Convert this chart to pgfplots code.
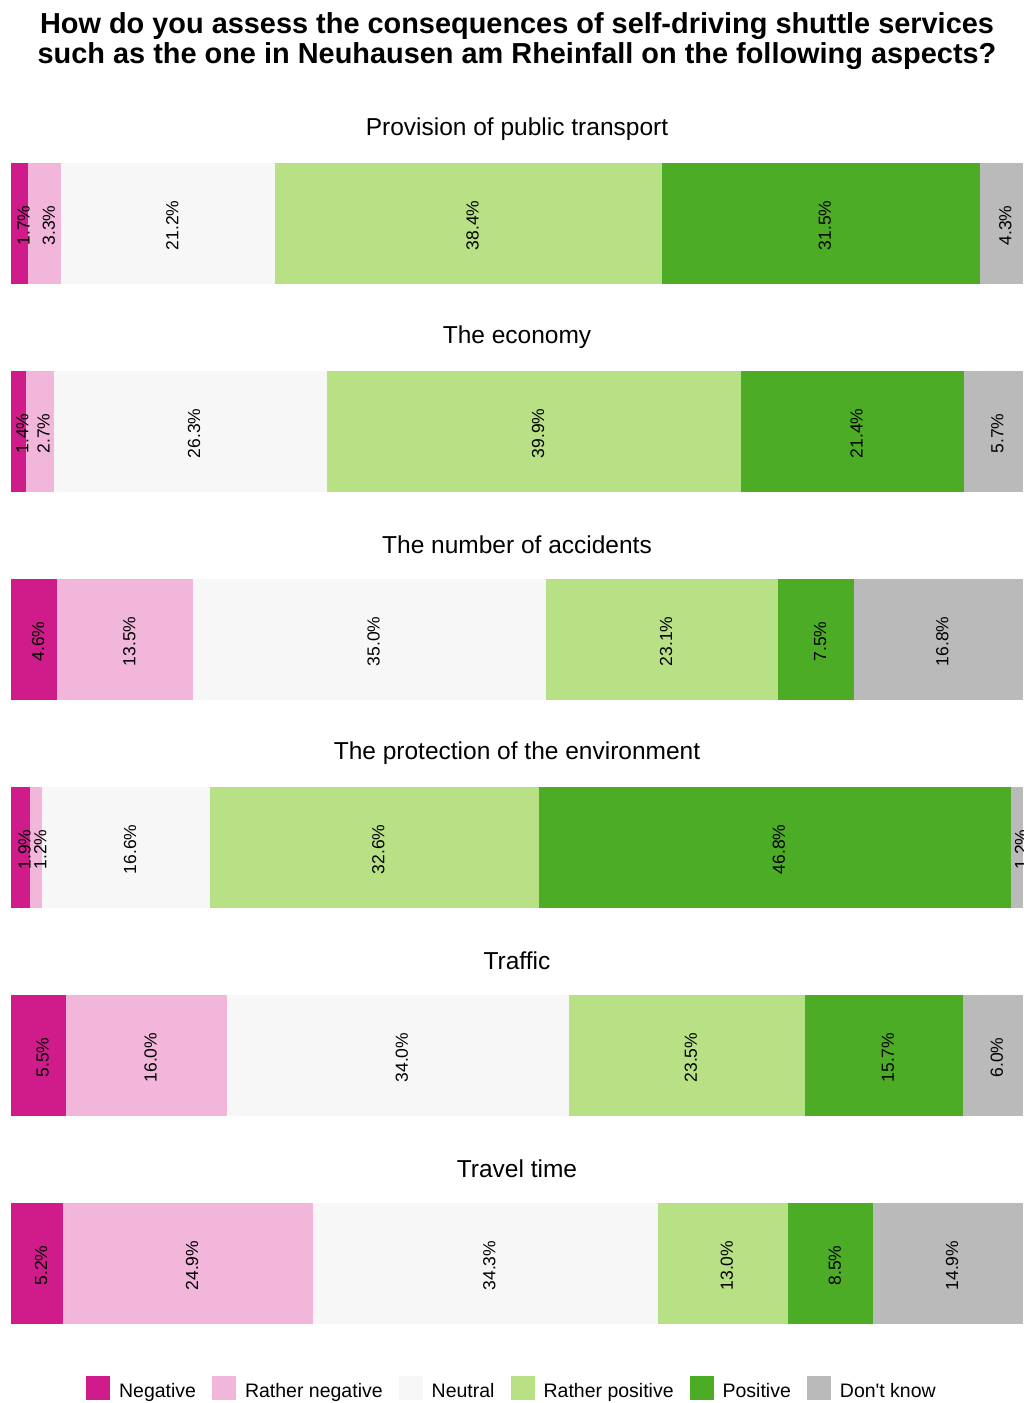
\documentclass[border=0pt]{standalone}
\usepackage{pgfplots}
\pgfplotsset{compat=1.18}
\usepackage{fontspec}
\setmainfont{Liberation Sans}
\definecolor{cNeg}{HTML}{D01C8B}
\definecolor{cRneg}{HTML}{F1B6DA}
\definecolor{cNeu}{HTML}{F7F7F7}
\definecolor{cRpos}{HTML}{B8E186}
\definecolor{cPos}{HTML}{4DAC26}
\definecolor{cDk}{HTML}{BABABA}
\pgfplotsset{
 panel/.style={
   xbar stacked, width=1012pt, height=121pt, scale only axis, hide axis,
   xmin=0, ymin=-0.5, ymax=0.5, bar width=121pt, enlargelimits=false,
   anchor=north west, clip=false,
   nodes near coords={\pgfmathprintnumber[fixed,fixed zerofill,precision=1,assume math mode=true]{\pgfplotspointmeta}\%},
   point meta=rawx,
   every node near coord/.append style={xshift=4pt, yshift=-2pt, anchor=center, rotate=90, font=\fontsize{17.5}{20}\selectfont, inner sep=0pt, text=black},
   legend image code/.code={\fill[##1] (0pt,-9pt) rectangle (24pt,15pt);},
 },
}
\newcommand{\panel}[9]{%
 \node[font=\fontsize{24.5}{28}\selectfont] at (517pt,{-#1pt+34pt}) {#2};
 \pgfmathsetmacro\tot{#3+#4+#5+#6+#7+#8}
 \begin{axis}[panel, at={(11pt,-#1pt)}, xmax=\tot, #9]
  \addplot[fill=cNeg, draw=none] coordinates {(#3,0)};
  \addplot[fill=cRneg, draw=none] coordinates {(#4,0)};
  \addplot[fill=cNeu, draw=none] coordinates {(#5,0)};
  \addplot[fill=cRpos, draw=none] coordinates {(#6,0)};
  \addplot[fill=cPos, draw=none] coordinates {(#7,0)};
  \addplot[fill=cDk, draw=none] coordinates {(#8,0)};
 \end{axis}}
\begin{document}
\begin{tikzpicture}
\path[use as bounding box] (0,0) rectangle (1024pt,-1403pt);
\node[font=\fontsize{28.9}{30}\selectfont\bfseries, align=center] at (517pt,-41pt)
 {How do you assess the consequences of self-driving shuttle services\\such as the one in Neuhausen am Rheinfall on the following aspects?};
\panel{163}{Provision of public transport}{1.7}{3.3}{21.2}{38.4}{31.5}{4.3}{}
\panel{371}{The economy}{1.4}{2.7}{26.3}{39.9}{21.4}{5.7}{}
\panel{579}{The number of accidents}{4.6}{13.5}{35.0}{23.1}{7.5}{16.8}{}
\panel{787}{The protection of the environment}{1.9}{1.2}{16.6}{32.6}{46.8}{1.2}{}
\panel{995}{Traffic}{5.5}{16.0}{34.0}{23.5}{15.7}{6.0}{}
\panel{1203}{Travel time}{5.2}{24.9}{34.3}{13.0}{8.5}{14.9}{legend entries={Negative,Rather negative,Neutral,Rather positive,Positive,{Don\textquotesingle t know}}, legend columns=6, legend style={at={(0.495,-0.53)}, anchor=center, draw=none, fill=none, font=\fontsize{19.5}{22}\selectfont, /tikz/every odd column/.append style={column sep=7pt}, /tikz/every even column/.append style={column sep=14pt}, inner sep=0pt}}
\end{tikzpicture}
\end{document}
